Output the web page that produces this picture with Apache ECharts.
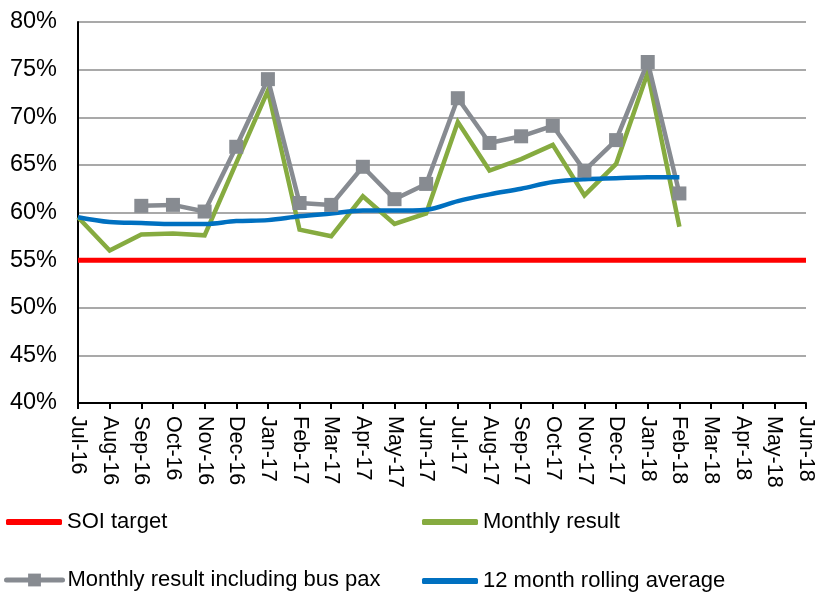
<!DOCTYPE html>
<html>
<head>
<meta charset="utf-8">
<script src="https://cdn.jsdelivr.net/npm/echarts@6/dist/echarts.min.js"></script>
<style>
  html, body { margin: 0; padding: 0; background: #ffffff; }
  #chart { width: 821px; height: 598px; }
</style>
</head>
<body>
<div id="chart"></div>
<script>
// Months on the category axis
var categories = ['Jul-16', 'Aug-16', 'Sep-16', 'Oct-16', 'Nov-16', 'Dec-16',
  'Jan-17', 'Feb-17', 'Mar-17', 'Apr-17', 'May-17', 'Jun-17',
  'Jul-17', 'Aug-17', 'Sep-17', 'Oct-17', 'Nov-17', 'Dec-17',
  'Jan-18', 'Feb-18', 'Mar-18', 'Apr-18', 'May-18', 'Jun-18'];

// Percent values per month
var soiTarget = [55, 55, 55, 55, 55, 55, 55, 55, 55, 55, 55, 55,
  55, 55, 55, 55, 55, 55, 55, 55, 55, 55, 55, 55];
var monthlyResult = [59.5, 56.0, 57.7, 57.8, 57.6, 65.2, 72.8, 58.2, 57.5, 61.7, 58.8, 59.9,
  69.5, 64.4, 65.6, 67.1, 61.8, 65.1, 74.7, 58.5, null, null, null, null];
var withBusPax = [null, null, 60.7, 60.8, 60.1, 66.9, 74.0, 61.0, 60.8, 64.8, 61.4, 63.0,
  72.0, 67.3, 68.0, 69.1, 64.4, 67.6, 75.8, 62.0, null, null, null, null];
var rollingAverage = [59.5, 59.0, 58.9, 58.8, 58.8, 59.1, 59.2, 59.6, 59.9, 60.2, 60.2, 60.3,
  61.2, 61.9, 62.5, 63.2, 63.5, 63.6, 63.7, 63.7, null, null, null, null];

// Y-axis range and step
var yMin = 40, yMax = 80, yStep = 5;

var FONT = 'Liberation Sans, Arial, sans-serif';
var COLORS = {
  target: '#ff0000',
  monthly: '#86ab40',
  bus: '#878b91',
  rolling: '#0070c0'
};

// One legend entry per box so the entries sit in two fixed columns
function legendAt(name, left, top, plainLine) {
  var item = { name: name };
  var legend = {
    data: [item],
    left: left,
    top: top,
    padding: 0,
    itemWidth: 56,
    itemHeight: 16,
    selectedMode: false,
    lineStyle: { width: 5, cap: 'round' },
    textStyle: { fontFamily: FONT, fontSize: 22, color: '#000' }
  };
  if (plainLine) {
    item.icon = 'roundRect';
    legend.itemHeight = 6;
  }
  return legend;
}

var chart = echarts.init(document.getElementById('chart'), null, { renderer: 'canvas' });

chart.setOption({
  animation: false,
  backgroundColor: '#ffffff',
  grid: { left: 78, right: 15, top: 22, bottom: 195, containLabel: false },
  legend: [
    legendAt('SOI target', 6, 511, true),
    legendAt('Monthly result', 422, 511, true),
    legendAt('Monthly result including bus pax', 4, 569, false),
    legendAt('12 month rolling average', 422, 570, true)
  ],
  xAxis: {
    type: 'category',
    data: categories,
    boundaryGap: false,
    axisLine: { lineStyle: { color: '#000', width: 2 } },
    axisTick: { show: true, length: 6, lineStyle: { color: '#000', width: 2 } },
    axisLabel: {
      rotate: -90,
      interval: 0,
      margin: 13,
      fontFamily: FONT,
      fontSize: 21.5,
      color: '#000'
    },
    splitLine: { show: false }
  },
  yAxis: {
    type: 'value',
    min: yMin,
    max: yMax,
    interval: yStep,
    axisLine: { show: true, lineStyle: { color: '#000', width: 2 } },
    axisTick: { show: false },
    axisLabel: {
      formatter: '{value}%',
      margin: 21,
      fontFamily: FONT,
      fontSize: 23.5,
      color: '#000'
    },
    splitLine: { lineStyle: { color: '#8c8c8c', width: 1.5 } }
  },
  series: [
    {
      name: 'SOI target',
      type: 'line',
      data: soiTarget,
      symbol: 'none',
      lineStyle: { color: COLORS.target, width: 5 },
      itemStyle: { color: COLORS.target }
    },
    {
      name: 'Monthly result',
      type: 'line',
      data: monthlyResult,
      symbol: 'none',
      lineStyle: { color: COLORS.monthly, width: 4.5, join: 'miter' },
      itemStyle: { color: COLORS.monthly }
    },
    {
      name: 'Monthly result including bus pax',
      type: 'line',
      data: withBusPax,
      symbol: 'rect',
      symbolSize: 14,
      showAllSymbol: true,
      lineStyle: { color: COLORS.bus, width: 4.5 },
      itemStyle: { color: COLORS.bus }
    },
    {
      name: '12 month rolling average',
      type: 'line',
      data: rollingAverage,
      symbol: 'none',
      smooth: 0.35,
      lineStyle: { color: COLORS.rolling, width: 4.5 },
      itemStyle: { color: COLORS.rolling }
    }
  ]
});
</script>
</body>
</html>
